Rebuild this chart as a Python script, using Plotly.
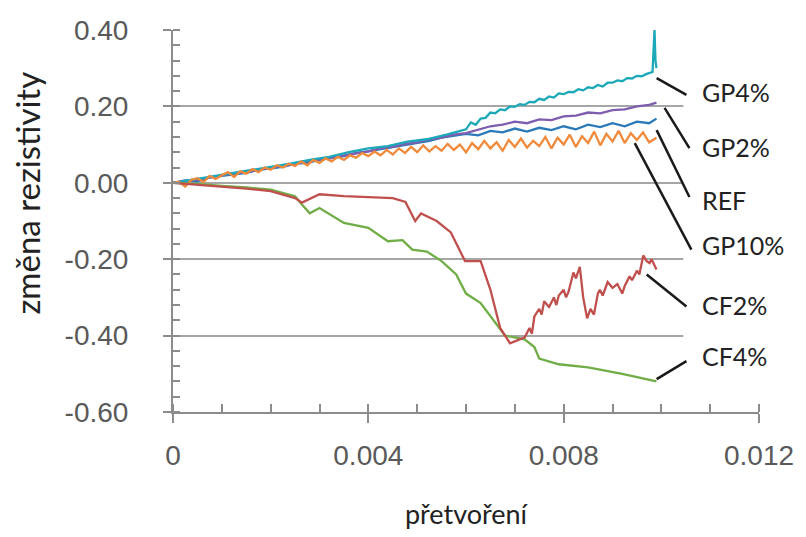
import plotly.graph_objects as go

# ---------------- data ----------------
series_names = ["REF", "GP2%", "GP4%", "GP10%", "CF4%", "CF2%"]

ref_x = [0, 0.00025, 0.0005, 0.00075, 0.001, 0.00125, 0.0015, 0.00175, 0.002, 0.00225,
         0.0025, 0.00275, 0.003, 0.00325, 0.0035, 0.00375, 0.004, 0.00425, 0.0045, 0.00475,
         0.005, 0.00525, 0.0055, 0.00575, 0.006, 0.00625, 0.0065, 0.00675, 0.007, 0.00725,
         0.0075, 0.00775, 0.008, 0.00825, 0.0085, 0.00875, 0.009, 0.00925, 0.0095, 0.00975,
         0.0099]
ref_y = [0, 0.006, 0.004, 0.014, 0.018, 0.022, 0.026, 0.034, 0.038, 0.042,
         0.050, 0.052, 0.060, 0.066, 0.070, 0.078, 0.082, 0.088, 0.094, 0.100,
         0.106, 0.110, 0.118, 0.124, 0.128, 0.124, 0.136, 0.132, 0.142, 0.134,
         0.144, 0.138, 0.148, 0.140, 0.152, 0.146, 0.156, 0.148, 0.160, 0.156,
         0.168]

gp2_x = [0, 0.0004, 0.0008, 0.0012, 0.0016, 0.002, 0.0024, 0.0028, 0.0032, 0.0036,
         0.004, 0.00425, 0.0045, 0.00475, 0.005, 0.00525, 0.0055, 0.00575, 0.006, 0.00625,
         0.0065, 0.00675, 0.007, 0.00725, 0.0075, 0.00775, 0.008, 0.00825, 0.0085, 0.00875,
         0.009, 0.00925, 0.0095, 0.00975, 0.0099]
gp2_y = [0, 0.006, 0.015, 0.024, 0.030, 0.040, 0.047, 0.058, 0.064, 0.074,
         0.082, 0.090, 0.094, 0.102, 0.106, 0.114, 0.118, 0.126, 0.130, 0.140,
         0.148, 0.152, 0.160, 0.156, 0.166, 0.164, 0.174, 0.176, 0.184, 0.182,
         0.190, 0.192, 0.200, 0.204, 0.210]

gp4_x = [0, 0.0004, 0.0008, 0.0012, 0.0016, 0.002, 0.0024, 0.0028, 0.0032, 0.0036,
         0.004, 0.0044, 0.0048, 0.0052, 0.0056, 0.006, 0.0061, 0.0062, 0.0063, 0.0064,
         0.0065, 0.0066, 0.0067, 0.0068, 0.0069, 0.007, 0.0071, 0.0072, 0.0073, 0.0074,
         0.0075, 0.0076, 0.0077, 0.0078, 0.0079, 0.008, 0.0081, 0.0082, 0.0083, 0.0084,
         0.0085, 0.0086, 0.0087, 0.0088, 0.0089, 0.009, 0.0091, 0.0092, 0.0093, 0.0094,
         0.0095, 0.0096, 0.0097, 0.00982, 0.00986, 0.00988, 0.0099]
gp4_y = [0, 0.008, 0.016, 0.025, 0.032, 0.042, 0.050, 0.060, 0.068, 0.080,
         0.090, 0.096, 0.108, 0.114, 0.126, 0.140, 0.158, 0.152, 0.168, 0.170,
         0.184, 0.182, 0.192, 0.190, 0.200, 0.199, 0.206, 0.204, 0.212, 0.211,
         0.220, 0.217, 0.226, 0.223, 0.234, 0.232, 0.238, 0.237, 0.245, 0.242,
         0.250, 0.248, 0.256, 0.252, 0.262, 0.262, 0.268, 0.266, 0.274, 0.273,
         0.280, 0.279, 0.285, 0.290, 0.400, 0.320, 0.300]

gp10_x = [0, 0.000125, 0.00025, 0.000375, 0.0005, 0.000625, 0.00075, 0.000875, 0.001, 0.001125,
          0.00125, 0.001375, 0.0015, 0.001625, 0.00175, 0.001875, 0.002, 0.002125, 0.00225, 0.002375,
          0.0025, 0.002625, 0.00275, 0.002875, 0.003, 0.003125, 0.00325, 0.003375, 0.0035, 0.003625,
          0.00375, 0.003875, 0.004, 0.004125, 0.00425, 0.004375, 0.0045, 0.004625, 0.00475, 0.004875,
          0.005, 0.005125, 0.00525, 0.005375, 0.0055, 0.005625, 0.00575, 0.005875, 0.006, 0.006125,
          0.00625, 0.006375, 0.0065, 0.006625, 0.00675, 0.006875, 0.007, 0.007125, 0.00725, 0.007375,
          0.0075, 0.007625, 0.00775, 0.007875, 0.008, 0.008125, 0.00825, 0.008375, 0.0085, 0.008625,
          0.00875, 0.008875, 0.009, 0.009125, 0.00925, 0.009375, 0.0095, 0.009625, 0.00975, 0.0099]
gp10_y = [0, 0.003, -0.010, 0.008, 0.012, 0.002, 0.018, 0.010, 0.020, 0.028,
          0.015, 0.030, 0.024, 0.036, 0.028, 0.040, 0.034, 0.046, 0.040, 0.050,
          0.044, 0.056, 0.046, 0.060, 0.052, 0.064, 0.056, 0.068, 0.060, 0.072,
          0.066, 0.078, 0.070, 0.082, 0.072, 0.086, 0.074, 0.090, 0.078, 0.094,
          0.080, 0.098, 0.082, 0.096, 0.084, 0.102, 0.086, 0.100, 0.080, 0.104,
          0.088, 0.110, 0.090, 0.106, 0.084, 0.112, 0.094, 0.116, 0.092, 0.110,
          0.096, 0.120, 0.090, 0.118, 0.100, 0.126, 0.094, 0.122, 0.104, 0.134,
          0.098, 0.128, 0.108, 0.136, 0.104, 0.130, 0.112, 0.132, 0.106, 0.118]

cf4_x = [0, 0.0005, 0.001, 0.0015, 0.002, 0.0025, 0.00264, 0.0028, 0.003, 0.0035,
         0.004, 0.0044, 0.0047, 0.0049, 0.0052, 0.0055, 0.0058, 0.006, 0.0063, 0.0065,
         0.0068, 0.0072, 0.0074, 0.0075, 0.0079, 0.0085, 0.0092, 0.0099]
cf4_y = [0, -0.003, -0.008, -0.012, -0.018, -0.035, -0.057, -0.080, -0.066, -0.105,
         -0.118, -0.153, -0.150, -0.175, -0.180, -0.205, -0.240, -0.290, -0.315, -0.350,
         -0.400, -0.410, -0.430, -0.460, -0.475, -0.483, -0.500, -0.520]

cf2_x = [0, 0.0005, 0.001, 0.0015, 0.002, 0.0025, 0.00264, 0.003, 0.0035, 0.004,
         0.0045, 0.00476, 0.00496, 0.00508, 0.0054, 0.00569, 0.00583, 0.00598, 0.0063, 0.0065,
         0.0067, 0.0069, 0.0071, 0.0072, 0.0073, 0.00735, 0.0074, 0.0075, 0.00755, 0.0076,
         0.0077, 0.0078, 0.00785, 0.0079, 0.008, 0.00805, 0.0081, 0.0082, 0.00825, 0.00833,
         0.0084, 0.00848, 0.00855, 0.00862, 0.0087, 0.00874, 0.0088, 0.0089, 0.009, 0.0091,
         0.0092, 0.00925, 0.00935, 0.0094, 0.0095, 0.00955, 0.00963, 0.0097, 0.00976, 0.0098,
         0.0099]
cf2_y = [0, -0.005, -0.010, -0.015, -0.022, -0.040, -0.052, -0.030, -0.035, -0.038,
         -0.040, -0.050, -0.100, -0.080, -0.100, -0.130, -0.167, -0.205, -0.205, -0.280,
         -0.380, -0.420, -0.410, -0.405, -0.380, -0.395, -0.350, -0.330, -0.345, -0.310,
         -0.325, -0.300, -0.320, -0.295, -0.280, -0.300, -0.285, -0.235, -0.250, -0.220,
         -0.300, -0.355, -0.330, -0.345, -0.290, -0.280, -0.295, -0.260, -0.275, -0.265,
         -0.290, -0.270, -0.245, -0.255, -0.230, -0.240, -0.190, -0.205, -0.210, -0.200,
         -0.227]

x_tick_vals = [0, 0.004, 0.008, 0.012]
x_tick_text = ["0", "0.004", "0.008", "0.012"]
y_tick_vals = [-0.6, -0.4, -0.2, 0.0, 0.2, 0.4]
y_tick_text = ["-0.60", "-0.40", "-0.20", "0.00", "0.20", "0.40"]

# ---------------- styles / layout constants ----------------
colors = {"REF": "#2A79B8", "GP2%": "#7E5DB0", "GP4%": "#1BA8B8",
          "GP10%": "#F08A3A", "CF4%": "#70AD47", "CF2%": "#C0504D"}
xs = {"REF": ref_x, "GP2%": gp2_x, "GP4%": gp4_x, "GP10%": gp10_x, "CF4%": cf4_x, "CF2%": cf2_x}
ys = {"REF": ref_y, "GP2%": gp2_y, "GP4%": gp4_y, "GP10%": gp10_y, "CF4%": cf4_y, "CF2%": cf2_y}

# label text position and leader line (start at curve end, end near label)
label_pos = {
    "GP4%": (0.0108, 0.238, (0.009904, 0.274, 0.010514, 0.230)),
    "GP2%": (0.0108, 0.094, (0.010066, 0.196, 0.010575, 0.091)),
    "REF": (0.0108, -0.044, (0.009904, 0.138, 0.010575, -0.037)),
    "GP10%": (0.0108, -0.164, (0.009456, 0.104, 0.010615, -0.175)),
    "CF2%": (0.0108, -0.319, (0.009700, -0.240, 0.010514, -0.324)),
    "CF4%": (0.0108, -0.454, (0.009904, -0.514, 0.010514, -0.467)),
}

axis_grey = "#8C8C8C"
grid_grey = "#A6A6A6"
tick_font = dict(family="Liberation Sans, Arial, sans-serif", size=28, color="#595959")
label_font = dict(family="Lato, Calibri, sans-serif", size=25, color="#222222")

W, H = 806, 537
ml, mr, mt, mb = 173, 43, 30, 124
pw, ph = W - ml - mr, H - mt - mb

fig = go.Figure()
for name in series_names:
    fig.add_trace(go.Scatter(x=xs[name], y=ys[name], mode="lines", name=name,
                             line=dict(color=colors[name], width=2.3)))

shapes = [dict(type="rect", xref="x", yref="y", x0=0.01045, x1=0.0125, y0=-0.57, y1=0.33,
               fillcolor="white", line=dict(width=0), layer="above")]
annotations = []
for name, (tx, ty, (lx0, ly0, lx1, ly1)) in label_pos.items():
    shapes.append(dict(type="line", xref="x", yref="y", x0=lx0, y0=ly0, x1=lx1, y1=ly1,
                       line=dict(color="#1a1a1a", width=2.5), layer="above"))
    annotations.append(dict(x=tx, y=ty, xref="x", yref="y", text=name, showarrow=False,
                            xanchor="left", yanchor="middle", font=label_font))

# y-axis title placed at its pixel position (converted to paper coords)
annotations.append(dict(x=(26 - ml) / pw, y=(H - mb - 193) / ph, xref="paper", yref="paper",
                        text="změna rezistivity", showarrow=False, textangle=-90,
                        xanchor="center", yanchor="middle",
                        font=dict(family="Lato, Calibri, sans-serif", size=33, color="#222222")))

fig.update_layout(
    width=W, height=H,
    margin=dict(l=ml, r=mr, t=mt, b=mb),
    paper_bgcolor="white", plot_bgcolor="white",
    showlegend=False,
    shapes=shapes, annotations=annotations,
    xaxis=dict(range=[0, 0.012], tickmode="array", tickvals=x_tick_vals, ticktext=x_tick_text,
               showgrid=False, zeroline=False, showline=True, linecolor=axis_grey, linewidth=2,
               ticks="outside", ticklen=9, tickwidth=1.5, tickcolor=axis_grey,
               tickfont=tick_font, ticklabelstandoff=8,
               minor=dict(tickmode="linear", tick0=0, dtick=0.001, ticks="inside", ticklen=8,
                          tickwidth=1.5, tickcolor=axis_grey, showgrid=False),
               title=dict(text="přetvoření", font=dict(family="Lato, Calibri, sans-serif", size=27,
                                                         color="#222222"), standoff=36)),
    yaxis=dict(range=[-0.6, 0.4], tickmode="array", tickvals=y_tick_vals, ticktext=y_tick_text,
               showgrid=True, gridcolor=grid_grey, gridwidth=2, zeroline=False,
               showline=True, linecolor=axis_grey, linewidth=2,
               ticks="outside", ticklen=8, tickwidth=1.5, tickcolor=axis_grey,
               tickfont=tick_font, ticklabelstandoff=29,
               minor=dict(tickmode="linear", tick0=0, dtick=0.04, ticks="inside", ticklen=7,
                          tickwidth=1.5, tickcolor=axis_grey, showgrid=False)),
)

fig.write_html("out.html")
